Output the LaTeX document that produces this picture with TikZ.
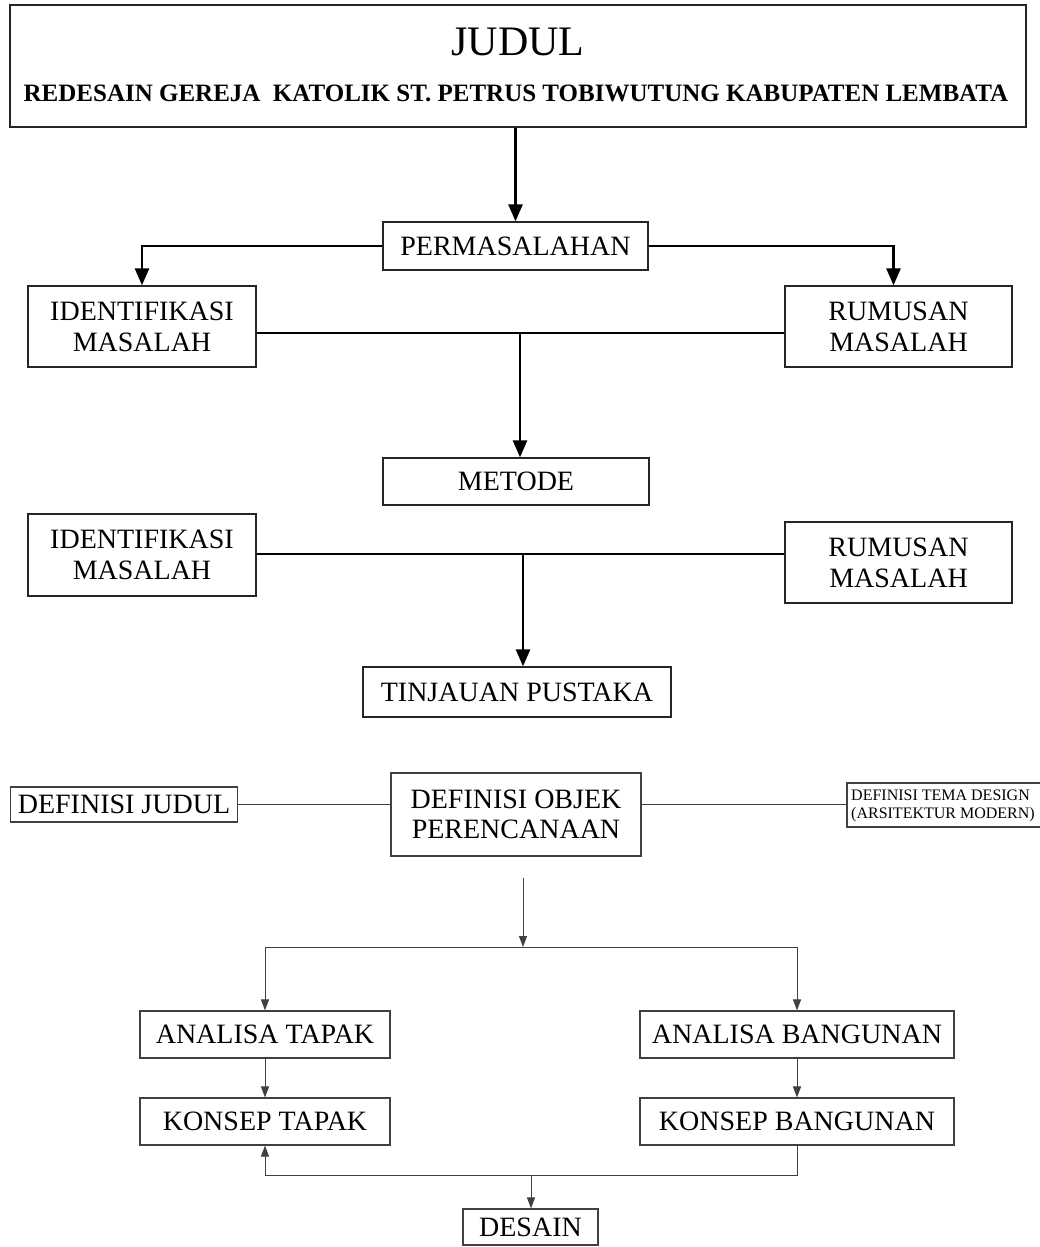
\documentclass[tikz,border=0pt]{standalone}
\usepackage{fontspec}
\setmainfont{Liberation Serif}
\usetikzlibrary{arrows.meta}
\begin{document}
\begin{tikzpicture}[x=1pt,y=-1pt,
  box/.style={draw=black!85,line width=1.3pt,inner sep=0pt,align=center,
    font=\fontsize{28}{31}\selectfont},
  boxl/.style={draw=black!75,line width=1.1pt,inner sep=0pt,align=center,
    font=\fontsize{28}{30}\selectfont},
  big/.style={line width=2.6pt,-{Triangle[length=17pt,width=14pt]}},
  bigline/.style={line width=2.6pt},
  small/.style={line width=1pt,draw=black!75,-{Triangle[length=11pt,width=8pt]}},
  smallline/.style={line width=1pt,draw=black!75}]
\useasboundingbox (0,0) rectangle (1039,1247);
\fill[white] (0,0) rectangle (1039,1247);
% title
\node[draw=black!85,line width=1.3pt,minimum width=1016pt,minimum height=122pt,inner sep=0pt] (title) at (518,66) {};
\node[font=\fontsize{42}{44}\selectfont,inner sep=0pt] (judul) at (518,42) {JUDUL};
\node[font=\fontsize{25}{27}\selectfont\bfseries,inner sep=0pt] (sub) at (516,93) {REDESAIN GEREJA\ \ KATOLIK ST. PETRUS TOBIWUTUNG KABUPATEN LEMBATA};
% upper
\node[box,minimum width=265pt,minimum height=48pt] (perm) at (515.5,246) {PERMASALAHAN};
\node[box,minimum width=228pt,minimum height=81pt] (id1) at (142,326.5) {IDENTIFIKASI\\MASALAH};
\node[box,minimum width=227pt,minimum height=81pt] (ru1) at (898.5,326.5) {RUMUSAN\\MASALAH};
\node[box,minimum width=266pt,minimum height=47pt] (metode) at (516,481.5) {METODE};
\node[box,minimum width=228pt,minimum height=82pt] (id2) at (142,555) {IDENTIFIKASI\\MASALAH};
\node[box,minimum width=227pt,minimum height=81pt] (ru2) at (898.5,562.5) {RUMUSAN\\MASALAH};
\node[box,minimum width=308pt,minimum height=50pt] (tinj) at (517,692) {TINJAUAN PUSTAKA};
\coordinate (j1) at (520,333);
\coordinate (j2) at (523,554);
\draw[big] (perm.north |- title.south) -- (perm.north);
\draw[big] (perm.west) -| (id1.north);
\draw[big] (perm.east) -| ([xshift=-5pt]ru1.north);
\draw[bigline] (id1.east |- j1) -- (ru1.west |- j1);
\draw[big] (j1) -- (j1 |- metode.north);
\draw[bigline] (id2.east |- j2) -- (ru2.west |- j2);
\draw[big] (j2) -- (j2 |- tinj.north);
% lower
\node[boxl,minimum width=227pt,minimum height=35pt] (dj) at (124,804.5) {DEFINISI JUDUL};
\node[boxl,minimum width=250pt,minimum height=83pt] (dobj) at (516,814.5) {DEFINISI OBJEK\\PERENCANAAN};
\node[draw=black!75,line width=1.1pt,minimum width=210pt,minimum height=44pt,inner sep=0pt] (dtema) at (952,805) {};
\node[anchor=west,align=left,inner sep=0pt,font=\fontsize{16}{18}\selectfont] (dtemat) at (851,806) {DEFINISI TEMA DESIGN\\(ARSITEKTUR MODERN)};
\draw[smallline] (dj.east) -- (dobj.west |- dj.east);
\draw[smallline] (dobj.east |- dj.east) -- (dtema.west |- dj.east);
\node[boxl,minimum width=250pt,minimum height=47pt] (at) at (265,1034.5) {ANALISA TAPAK};
\node[boxl,minimum width=314pt,minimum height=47pt] (ab) at (797,1034.5) {ANALISA BANGUNAN};
\node[boxl,minimum width=250pt,minimum height=47pt] (kt) at (265,1121.5) {KONSEP TAPAK};
\node[boxl,minimum width=314pt,minimum height=47pt] (kb) at (797,1121.5) {KONSEP BANGUNAN};
\node[boxl,minimum width=135pt,minimum height=36pt] (desain) at (530.5,1227) {DESAIN};
\coordinate (a0) at (523,878);
\coordinate (j3) at (523,947);
\coordinate (j4) at (531,1175);
\draw[small] (a0) -- (j3);
\draw[smallline] (j3 -| at.north) -- (j3 -| ab.north);
\draw[small] (j3 -| at.north) -- (at.north);
\draw[small] (j3 -| ab.north) -- (ab.north);
\draw[small] (at.south) -- (kt.north);
\draw[small] (ab.south) -- (kb.north);
\draw[small] (kb.south) |- (kt.south |- j4) -- (kt.south);
\draw[small] (j4) -- (j4 |- desain.north);
\end{tikzpicture}
\end{document}
